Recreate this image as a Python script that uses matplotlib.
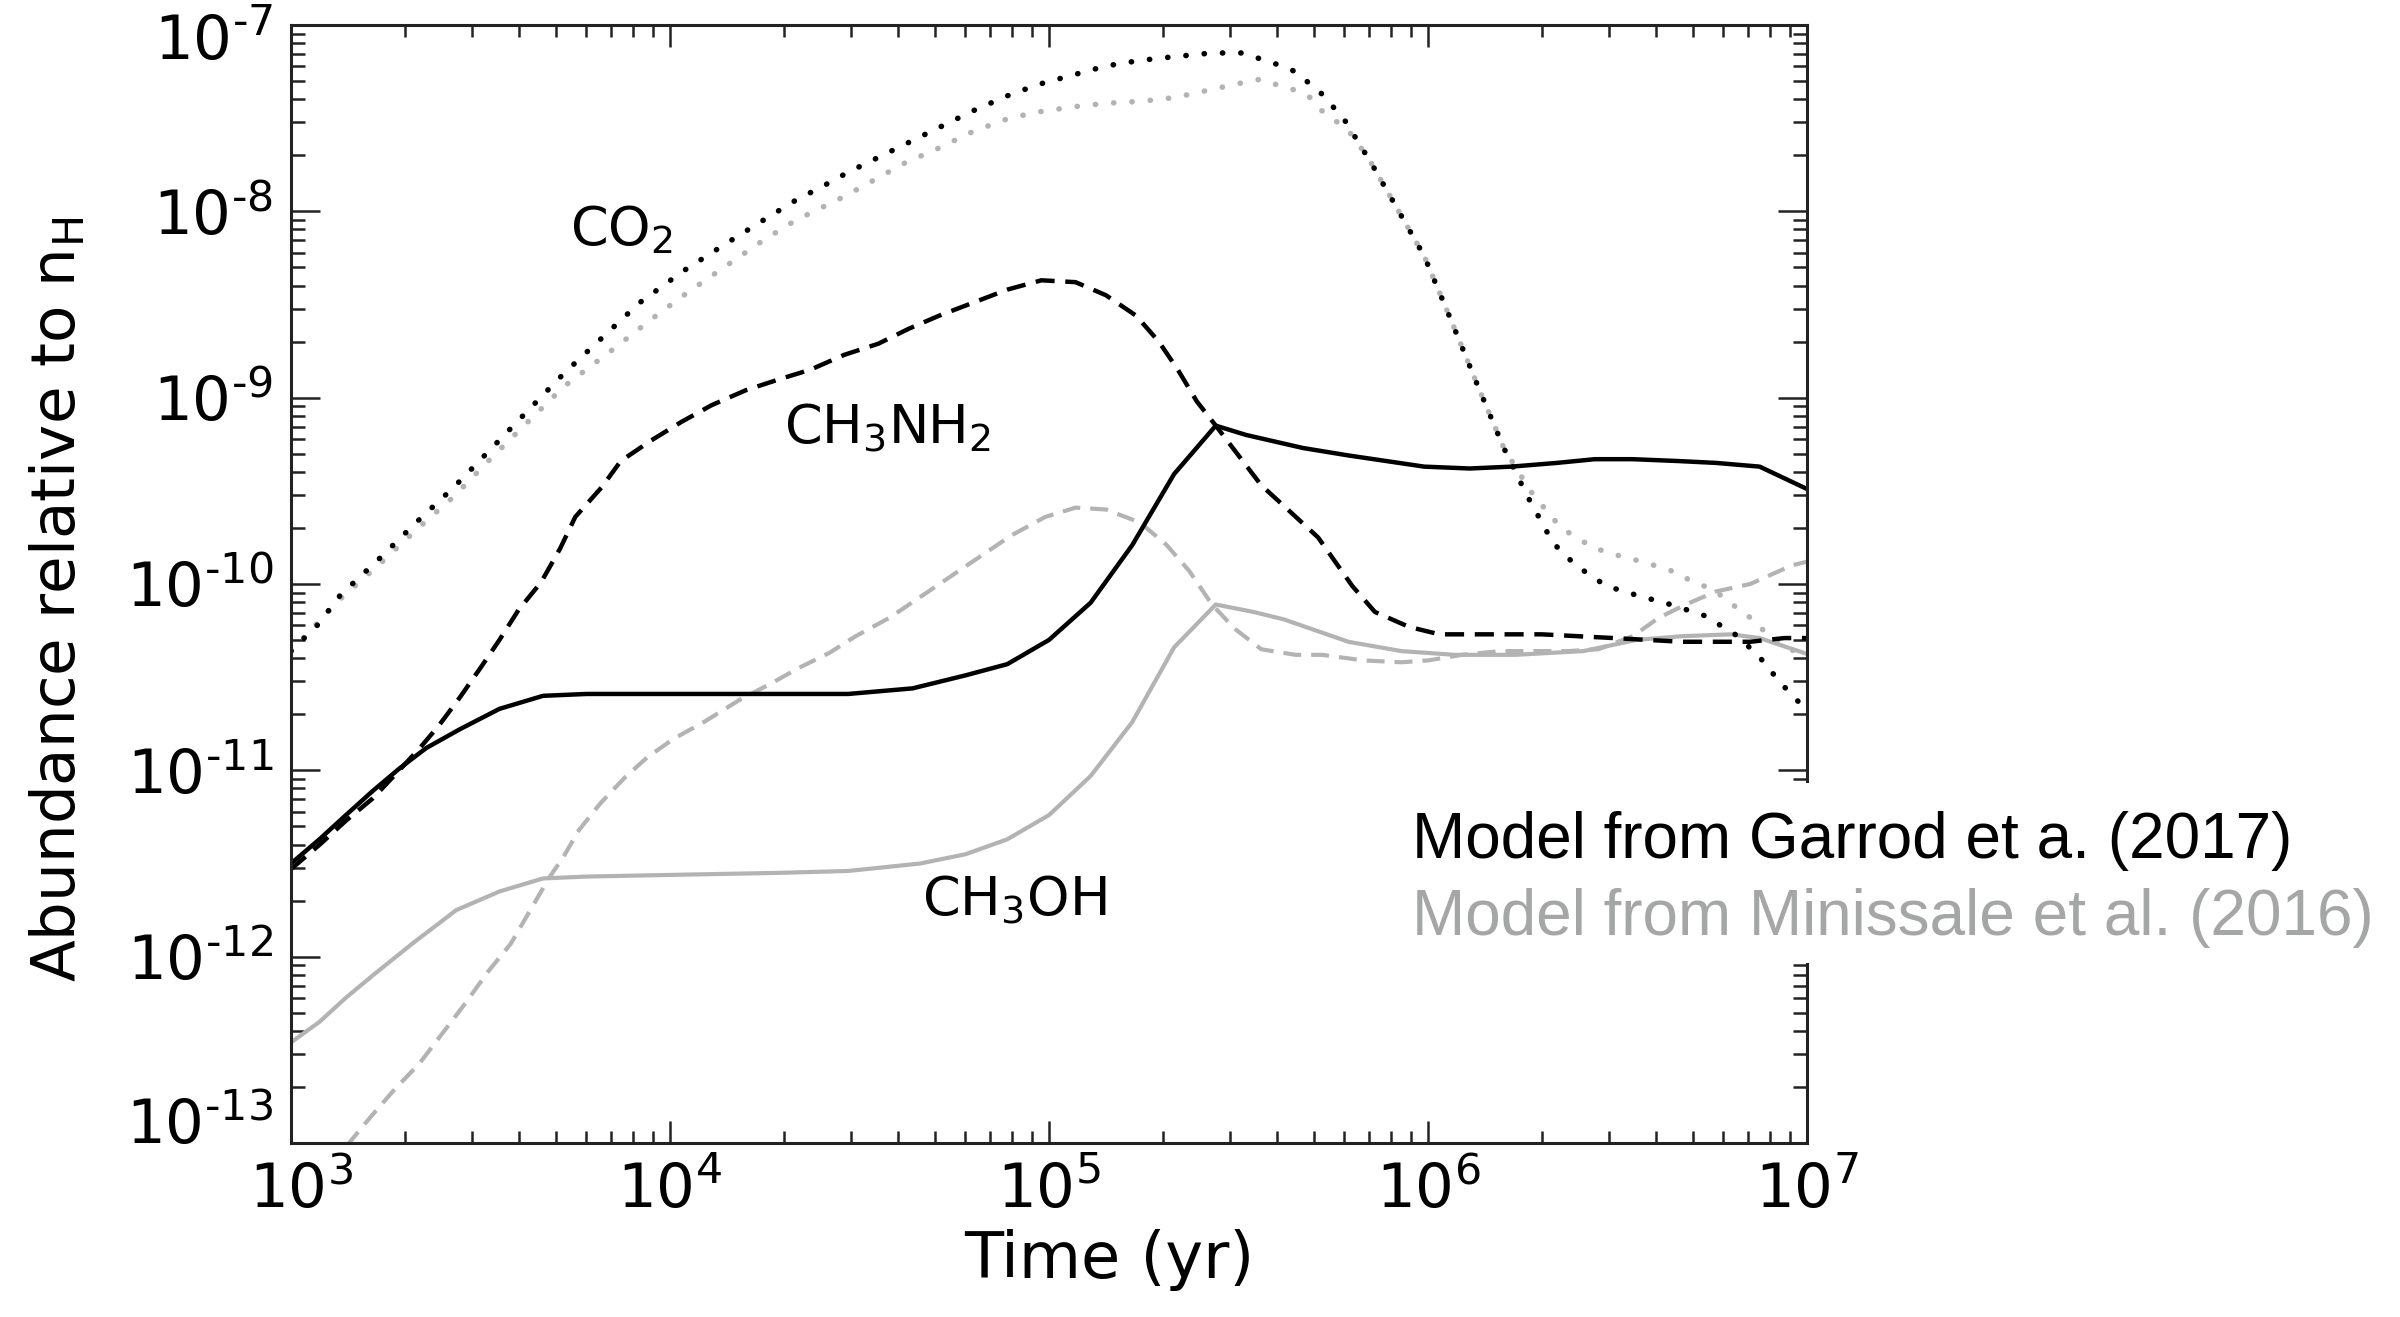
import numpy as np
import matplotlib
matplotlib.use('Agg')
import matplotlib.pyplot as plt
from matplotlib.ticker import FixedLocator, LogLocator, FuncFormatter, NullFormatter
from matplotlib.patches import Rectangle
from matplotlib.transforms import ScaledTranslation

# values are log10(time / yr) and log10(abundance)
# CO2, Garrod et al. (2017) -- black dotted
co2_g_t = [3.0, 3.07, 3.13, 3.23, 3.33, 3.43, 3.53, 3.62, 3.72, 3.82, 3.92, 4.035, 4.15, 4.26,
           4.34, 4.39, 4.47, 4.55, 4.64, 4.72, 4.80, 4.89, 4.97, 5.06, 5.15, 5.24, 5.33, 5.43,
           5.51, 5.60, 5.65, 5.72, 5.78, 5.85, 5.92, 5.99, 6.06, 6.13, 6.20, 6.26, 6.33, 6.39,
           6.47, 6.55, 6.64, 6.73, 6.81, 6.87, 6.93, 7.0]
co2_g_y = [-10.36, -10.22, -10.06, -9.87, -9.67, -9.48, -9.27, -9.08, -8.87, -8.68, -8.49, -8.32,
           -8.17, -8.03, -7.93, -7.88, -7.79, -7.71, -7.62, -7.54, -7.46, -7.38, -7.32, -7.27,
           -7.22, -7.19, -7.17, -7.15, -7.15, -7.21, -7.25, -7.37, -7.51, -7.74, -7.99, -8.24,
           -8.58, -8.93, -9.27, -9.52, -9.78, -9.90, -10.01, -10.06, -10.11, -10.17, -10.27,
           -10.38, -10.53, -10.68]

# CO2, Minissale et al. (2016) -- grey dotted
co2_m_t = [3.0, 3.13, 3.23, 3.33, 3.43, 3.53, 3.62, 3.72, 3.85, 3.95, 4.05, 4.15, 4.25, 4.33,
           4.38, 4.46, 4.54, 4.62, 4.71, 4.79, 4.88, 4.96, 5.06, 5.15, 5.24, 5.33, 5.42, 5.51,
           5.56, 5.60, 5.65, 5.69, 5.72, 5.76, 5.80, 5.85, 5.92, 5.99, 6.06, 6.13, 6.20, 6.27,
           6.33, 6.36, 6.40, 6.44, 6.48, 6.52, 6.57, 6.61, 6.66, 6.69, 6.74, 6.78, 6.81, 6.85,
           6.88, 6.94, 7.0]
co2_m_y = [-10.36, -10.08, -9.90, -9.71, -9.53, -9.32, -9.14, -8.94, -8.74, -8.58, -8.43, -8.29,
           -8.15, -8.05, -8.00, -7.92, -7.83, -7.74, -7.66, -7.58, -7.51, -7.47, -7.44, -7.42,
           -7.41, -7.39, -7.35, -7.31, -7.29, -7.32, -7.35, -7.39, -7.46, -7.52, -7.59, -7.74,
           -7.99, -8.24, -8.58, -8.93, -9.27, -9.50, -9.65, -9.71, -9.76, -9.81, -9.83, -9.86,
           -9.88, -9.91, -9.94, -9.98, -10.02, -10.07, -10.12, -10.18, -10.24, -10.33, -10.40]

# CH3NH2, Garrod -- black dashed
nh2_g_t = [3.0, 3.075, 3.145, 3.216, 3.29, 3.34, 3.39, 3.445, 3.50, 3.55, 3.60, 3.66, 3.71, 3.75,
           3.82, 3.87, 3.95, 4.03, 4.11, 4.20, 4.29, 4.37, 4.46, 4.55, 4.63, 4.71, 4.80, 4.89,
           4.98, 5.07, 5.15, 5.23, 5.29, 5.34, 5.39, 5.44, 5.50, 5.56, 5.63, 5.71, 5.80, 5.86,
           5.95, 6.03, 6.13, 6.30, 6.49, 6.67, 6.85, 6.94, 7.0]
nh2_g_y = [-11.53, -11.40, -11.27, -11.15, -10.99, -10.88, -10.76, -10.61, -10.45, -10.30, -10.14,
           -9.99, -9.81, -9.64, -9.48, -9.34, -9.23, -9.13, -9.04, -8.96, -8.90, -8.85, -8.77,
           -8.71, -8.63, -8.56, -8.49, -8.42, -8.37, -8.38, -8.45, -8.56, -8.70, -8.85, -9.02,
           -9.15, -9.31, -9.47, -9.60, -9.75, -10.01, -10.15, -10.23, -10.27, -10.27, -10.27,
           -10.29, -10.31, -10.31, -10.29, -10.29]

# CH3NH2, Minissale -- grey dashed
nh2_m_t = [3.0, 3.145, 3.21, 3.27, 3.34, 3.40, 3.46, 3.52, 3.58, 3.64, 3.68, 3.72, 3.76, 3.815,
           3.88, 3.94, 4.01, 4.09, 4.185, 4.27, 4.34, 4.42, 4.49, 4.58, 4.66, 4.74, 4.82, 4.90,
           4.99, 5.07, 5.15, 5.24, 5.31, 5.37, 5.43, 5.49, 5.56, 5.65, 5.72, 5.83, 5.93, 6.0,
           6.09, 6.19, 6.28, 6.37, 6.45, 6.54, 6.61, 6.68, 6.76, 6.85, 6.96, 7.0]
nh2_m_y = [-13.35, -13.02, -12.86, -12.72, -12.57, -12.41, -12.25, -12.08, -11.93, -11.72, -11.58,
           -11.46, -11.32, -11.18, -11.04, -10.93, -10.83, -10.74, -10.62, -10.53, -10.45,
           -10.37, -10.28, -10.18, -10.07, -9.96, -9.85, -9.74, -9.64, -9.59, -9.60, -9.67,
           -9.79, -9.93, -10.11, -10.24, -10.35, -10.38, -10.38, -10.41, -10.42, -10.41, -10.38,
           -10.36, -10.36, -10.36, -10.35, -10.28, -10.18, -10.11, -10.04, -10.0, -9.90, -9.88]

# CH3OH, Garrod -- black solid
oh_g_t = [3.0, 3.075, 3.145, 3.216, 3.286, 3.357, 3.445, 3.55, 3.665, 3.78, 3.94, 4.11, 4.29,
          4.47, 4.64, 4.78, 4.89, 5.0, 5.11, 5.22, 5.33, 5.44, 5.52, 5.67, 5.79, 5.99, 6.11,
          6.22, 6.34, 6.44, 6.54, 6.66, 6.76, 6.875, 7.0]
oh_g_y = [-11.50, -11.37, -11.24, -11.11, -10.99, -10.88, -10.78, -10.67, -10.60, -10.59, -10.59,
          -10.59, -10.59, -10.59, -10.56, -10.49, -10.43, -10.30, -10.10, -9.79, -9.41, -9.15,
          -9.20, -9.27, -9.31, -9.37, -9.38, -9.37, -9.35, -9.33, -9.33, -9.34, -9.35, -9.37,
          -9.49]

# CH3OH, Minissale -- grey solid
oh_m_t = [3.0, 3.075, 3.145, 3.216, 3.32, 3.436, 3.55, 3.665, 3.78, 4.03, 4.29, 4.47, 4.66, 4.78,
          4.89, 5.0, 5.11, 5.22, 5.33, 5.44, 5.54, 5.62, 5.79, 5.93, 6.07, 6.23, 6.41, 6.55,
          6.67, 6.80, 6.875, 7.0]
oh_m_y = [-12.46, -12.35, -12.22, -12.10, -11.93, -11.75, -11.65, -11.58, -11.57, -11.56, -11.55,
          -11.54, -11.50, -11.45, -11.37, -11.24, -11.03, -10.74, -10.34, -10.11, -10.15,
          -10.19, -10.31, -10.36, -10.38, -10.38, -10.36, -10.30, -10.28, -10.27, -10.29,
          -10.375]

species = ['CO$_2$', 'CH$_3$NH$_2$', 'CH$_3$OH']
species_t = [3.735, 4.30, 4.665]
species_y = [-8.18, -9.25, -11.78]
model_labels = ['Model from Garrod et a. (2017)', 'Model from Minissale et al. (2016)']

GREY = '#b3b3b3'
DOT = (0, (0.05, 3.25))
DASH = (0, (4.3, 2.4))

plt.rcParams['font.family'] = 'DejaVu Sans'
plt.rcParams['mathtext.default'] = 'regular'

fig = plt.figure(figsize=(24, 13.17), dpi=100)
ax = fig.add_axes([0.12125, 0.1321, 0.63167, 0.8489])


def L(a):
    return 10.0 ** np.array(a)


ax.plot(L(co2_m_t), L(co2_m_y), color=GREY, lw=4, ls=DOT, dash_capstyle='round')
ax.plot(L(nh2_m_t), L(nh2_m_y), color=GREY, lw=3, ls=DASH)
ax.plot(L(oh_m_t), L(oh_m_y), color=GREY, lw=3)
ax.plot(L(co2_g_t), L(co2_g_y), color='k', lw=4, ls=DOT, dash_capstyle='round')
ax.plot(L(nh2_g_t), L(nh2_g_y), color='k', lw=3.2, ls=DASH)
ax.plot(L(oh_g_t), L(oh_g_y), color='k', lw=3.2)

ax.set_xscale('log')
ax.set_yscale('log')
ax.set_xlim(1e3, 1e7)
ax.set_ylim(1e-13, 1e-7)


def fmt(v, pos):
    e = int(round(np.log10(v)))
    return r'$10^{%s}$' % str(e).replace('-', '\u2010')


ax.xaxis.set_major_locator(FixedLocator(10.0 ** np.arange(3, 8)))
ax.yaxis.set_major_locator(FixedLocator(10.0 ** np.arange(-13, -6)))
for a in (ax.xaxis, ax.yaxis):
    a.set_minor_locator(LogLocator(base=10, subs=np.arange(2, 10), numticks=60))
    a.set_major_formatter(FuncFormatter(fmt))
    a.set_minor_formatter(NullFormatter())

ax.tick_params(which='both', direction='in', top=True, right=True, width=1.8, colors='#222222',
               labelcolor='black', labelsize=44)
ax.tick_params(axis='y', which='major', length=21, pad=13)
ax.tick_params(axis='y', which='minor', length=10)
ax.tick_params(axis='x', which='major', length=16, pad=13)
ax.tick_params(axis='x', which='minor', length=8.5)
for s in ax.spines.values():
    s.set_linewidth(2.2)
    s.set_color('#222222')

# nudge the end labels like in the original
ylabs = ax.get_yticklabels()
ylabs[0].set_transform(ylabs[0].get_transform() + ScaledTranslation(0, 0.22, fig.dpi_scale_trans))
ylabs[-1].set_transform(ylabs[-1].get_transform() + ScaledTranslation(0, -0.12, fig.dpi_scale_trans))
xlabs = ax.get_xticklabels()
xlabs[0].set_transform(xlabs[0].get_transform() + ScaledTranslation(0.1, 0, fig.dpi_scale_trans))

ax.set_xlabel('Time (yr)', fontsize=46)
ax.xaxis.set_label_coords(0.54, -0.077)
ax.set_ylabel('Abundance relative to n$_{H}$', fontsize=44)
ax.yaxis.set_label_coords(-0.134, 0.486)

for name, t, y in zip(species, species_t, species_y):
    ax.text(10 ** t, 10 ** y, name, fontsize=39, ha='left', va='baseline')

# white block behind the model names, it hides the right spine there
ax.add_patch(Rectangle((0.58, 0.2688), 0.42, 0.1367, transform=fig.transFigure,
                       facecolor='white', edgecolor='none', clip_on=False, zorder=10))
fig.text(0.5883, 0.3485, model_labels[0], fontsize=46, family='Liberation Sans',
         color='black', va='baseline')
fig.text(0.5883, 0.2900, model_labels[1], fontsize=46, family='Liberation Sans',
         color='#a4a7a5', va='baseline')

fig.savefig('out.png', dpi=100)
